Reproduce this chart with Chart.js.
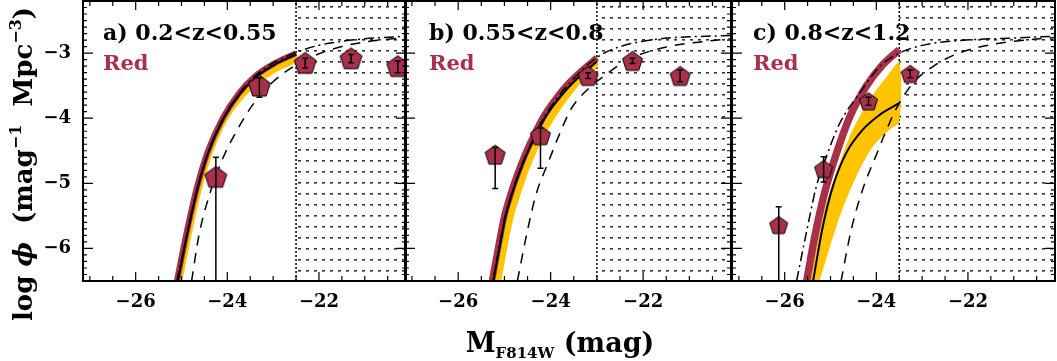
<!DOCTYPE html>
<html>
<head>
<meta charset="utf-8">
<script src="https://cdn.jsdelivr.net/npm/chart.js@4.4.1/dist/chart.umd.min.js"></script>
<style>
  html, body { margin: 0; padding: 0; background: #fff; }
  #wrap { position: relative; width: 1057px; height: 361px; }
  #wrap canvas { position: absolute; left: 0; top: 0; }
</style>
</head>
<body>
<div id="wrap">
  <canvas id="panelA" width="1057" height="361"></canvas>
  <canvas id="panelB" width="1057" height="361"></canvas>
  <canvas id="panelC" width="1057" height="361"></canvas>
</div>
<script>
// axes
const M_MIN = -27.15, M_MAX = -20.1;
const PHI_MIN = -6.5, PHI_MAX = -2.2;
const xTicks = [-26, -24, -22];
const yTicks = [-6, -5, -4, -3];

const panelTitles = ['a) 0.2<z<0.55', 'b) 0.55<z<0.8', 'c) 0.8<z<1.2'];
const sampleName = 'Red';

// completeness limits (hatched to the right)
const limits = [-22.5, -23.0, -23.5];

// ---- panel a ----
const aRed = [[-25.1, -6.5], [-24.96, -6.0], [-24.81, -5.5], [-24.64, -5.0], [-24.42, -4.5], [-24.1, -4.0], [-23.75, -3.62], [-23.4, -3.36], [-23.0, -3.17], [-22.5, -3.0]];
const aFit = [[-25.08, -6.5], [-24.94, -6.0], [-24.79, -5.5], [-24.62, -5.0], [-24.4, -4.5], [-24.08, -4.0], [-23.73, -3.63], [-23.38, -3.37], [-22.98, -3.18], [-22.5, -3.02]];
const aBandLo = [[-24.98, -6.5], [-24.84, -6.0], [-24.69, -5.5], [-24.52, -5.0], [-24.3, -4.5], [-23.97, -4.0], [-23.6, -3.66], [-23.22, -3.42], [-22.85, -3.26], [-22.5, -3.14]];
const aDash = [[-24.78, -6.5], [-24.62, -5.8], [-24.4, -5.2], [-24.1, -4.62], [-23.76, -4.15], [-23.4, -3.75], [-23.0, -3.44], [-22.5, -3.18], [-22.0, -3.01], [-21.5, -2.9], [-21.0, -2.83], [-20.1, -2.76]];
const aDashDot = [[-25.1, -6.5], [-24.95, -6.0], [-24.8, -5.5], [-24.63, -5.0], [-24.41, -4.5], [-24.09, -4.0], [-23.74, -3.62], [-23.39, -3.35], [-23.0, -3.15], [-22.5, -2.99], [-22.0, -2.88], [-21.5, -2.82], [-21.0, -2.78], [-20.1, -2.74]];
const aM = [-24.25, -23.3, -22.3, -21.3, -20.28];
const aPhi = [-4.9, -3.5, -3.15, -3.08, -3.2];
const aHi = [-4.6, -3.38, -3.08, -3.02, -3.12];
const aLo = [-7.0, -3.68, -3.23, -3.15, -3.3];

// ---- panel b ----
const bRed = [[-25.27, -6.5], [-25.14, -6.0], [-25.01, -5.52], [-24.86, -5.15], [-24.72, -4.86], [-24.55, -4.55], [-24.35, -4.24], [-24.15, -3.97], [-23.92, -3.73], [-23.7, -3.53], [-23.48, -3.37], [-23.25, -3.22], [-23.0, -3.07]];
const bFit = [[-25.24, -6.5], [-25.11, -6.0], [-24.98, -5.52], [-24.83, -5.15], [-24.69, -4.86], [-24.52, -4.56], [-24.32, -4.26], [-24.12, -3.99], [-23.89, -3.76], [-23.67, -3.57], [-23.45, -3.41], [-23.22, -3.27], [-23.0, -3.13]];
const bBandLo = [[-25.07, -6.5], [-24.94, -6.0], [-24.8, -5.52], [-24.64, -5.15], [-24.5, -4.86], [-24.33, -4.56], [-24.12, -4.26], [-23.9, -3.99], [-23.66, -3.74], [-23.44, -3.54], [-23.22, -3.36], [-23.0, -3.22]];
const bDash = [[-24.72, -6.5], [-24.5, -5.72], [-24.32, -5.18], [-24.06, -4.69], [-23.77, -4.18], [-23.56, -3.86], [-23.19, -3.55], [-22.9, -3.38], [-22.32, -3.1], [-21.52, -2.91], [-20.65, -2.82], [-20.1, -2.78]];
const bDashDot = [[-25.25, -6.5], [-25.12, -6.0], [-24.99, -5.52], [-24.84, -5.15], [-24.7, -4.86], [-24.53, -4.55], [-24.33, -4.24], [-24.13, -3.97], [-23.9, -3.73], [-23.68, -3.53], [-23.46, -3.36], [-23.23, -3.2], [-23.0, -3.07], [-22.76, -2.97], [-22.4, -2.88], [-22.1, -2.83], [-21.5, -2.77], [-21.0, -2.75], [-20.1, -2.73]];
const bM = [-25.2, -24.22, -23.19, -22.23, -21.2];
const bPhi = [-4.56, -4.26, -3.35, -3.12, -3.35];
const bHi = [-4.45, -4.15, -3.3, -3.08, -3.26];
const bLo = [-5.08, -4.77, -3.39, -3.16, -3.44];

// ---- panel c ----
const cRed = [[-25.52, -6.5], [-25.33, -5.77], [-25.13, -5.15], [-24.87, -4.54], [-24.58, -3.98], [-24.22, -3.51], [-23.86, -3.18], [-23.5, -2.95]];
const cFit = [[-25.38, -6.5], [-25.17, -5.67], [-24.95, -5.05], [-24.66, -4.54], [-24.3, -4.18], [-23.93, -3.95], [-23.5, -3.77]];
const cBandHi = [[-25.44, -6.5], [-25.17, -5.51], [-24.88, -4.85], [-24.55, -4.23], [-24.15, -3.72], [-23.79, -3.38], [-23.5, -3.15]];
const cBandLo = [[-25.24, -6.5], [-24.8, -5.51], [-24.44, -4.9], [-24.08, -4.44], [-23.72, -4.18], [-23.5, -4.05]];
const cDash = [[-24.77, -6.5], [-24.55, -5.72], [-24.3, -5.1], [-23.97, -4.51], [-23.79, -4.2], [-23.57, -3.86], [-23.2, -3.46], [-22.75, -3.2], [-22.2, -3.0], [-21.4, -2.86], [-20.6, -2.79], [-20.1, -2.76]];
const cDashDot = [[-25.74, -6.5], [-25.53, -5.77], [-25.31, -5.05], [-25.09, -4.59], [-24.8, -4.08], [-24.37, -3.62], [-23.93, -3.21], [-23.5, -3.0], [-22.92, -2.87], [-22.05, -2.8], [-21.04, -2.77], [-20.1, -2.74]];
const cM = [-26.13, -25.15, -24.17, -23.26];
const cPhi = [-5.64, -4.78, -3.74, -3.32];
const cHi = [-5.36, -4.59, -3.68, -3.26];
const cLo = [-7.0, -4.98, -3.8, -3.38];

const RED = '#a8304b';
const GOLD = '#ffc400';
const SERIF = '"DejaVu Serif", serif';

function xy(pairs) {
    return pairs.map(([x, y]) => ({ x, y }));
}

function pentagon(r) {
    const s = Math.ceil(2 * r + 4);
    const c = document.createElement('canvas');
    c.width = s;
    c.height = s;
    const g = c.getContext('2d');
    const cy = s / 2 + 0.095 * r;
    g.beginPath();
    for (let i = 0; i < 5; i++) {
        const t = -Math.PI / 2 + i * 2 * Math.PI / 5;
        const px = s / 2 + r * Math.cos(t);
        const py = cy + r * Math.sin(t);
        if (i) g.lineTo(px, py); else g.moveTo(px, py);
    }
    g.closePath();
    g.fillStyle = RED;
    g.fill();
    g.lineWidth = 1;
    g.strokeStyle = '#000';
    g.stroke();
    return c;
}

function hatch() {
    const c = document.createElement('canvas');
    c.width = 8;
    c.height = 11;
    const g = c.getContext('2d');
    g.fillStyle = '#333';
    g.fillRect(2, 6, 3, 1.6);
    return g.createPattern(c, 'repeat');
}

function curve(pairs, color, width, dash, order) {
    return {
        data: xy(pairs),
        borderColor: color,
        borderWidth: width,
        borderDash: dash,
        borderCapStyle: 'butt',
        pointRadius: 0,
        fill: false,
        cubicInterpolationMode: 'monotone',
        order: order
    };
}

// no extra label padding, so all three frames line up
function noPad(s) {
    s.paddingTop = 0;
    s.paddingBottom = 0;
    s.paddingLeft = 0;
    s.paddingRight = 0;
}

// inward ticks on all four sides + frame
const frameTicks = {
    id: 'frameTicks',
    afterDraw(chart) {
        const { ctx, chartArea: a, scales: { x, y } } = chart;
        ctx.save();
        ctx.strokeStyle = '#000';
        ctx.lineWidth = 1.2;
        ctx.beginPath();
        for (let k = Math.ceil(x.min * 2); k <= Math.floor(x.max * 2); k++) {
            const px = x.getPixelForValue(k / 2);
            const len = (k % 4 === 0) ? 9 : 5;
            ctx.moveTo(px, a.bottom); ctx.lineTo(px, a.bottom - len);
            ctx.moveTo(px, a.top); ctx.lineTo(px, a.top + len);
        }
        for (let k = Math.ceil(y.min * 10); k <= Math.floor(y.max * 10); k++) {
            const py = y.getPixelForValue(k / 10);
            const len = (k % 10 === 0) ? 10 : 4;
            ctx.moveTo(a.left, py); ctx.lineTo(a.left + len, py);
            ctx.moveTo(a.right, py); ctx.lineTo(a.right - len, py);
        }
        ctx.stroke();
        ctx.lineWidth = 2;
        ctx.strokeRect(a.left, a.top, a.width, a.height);
        ctx.restore();
    }
};

const errorBars = {
    id: 'errorBars',
    afterDatasetsDraw(chart, args, opts) {
        const { ctx, chartArea: a, scales: { x, y } } = chart;
        ctx.save();
        ctx.beginPath();
        ctx.rect(a.left, a.top, a.width, a.height);
        ctx.clip();
        ctx.strokeStyle = '#000';
        ctx.lineWidth = 1.5;
        opts.m.forEach((m, i) => {
            const px = x.getPixelForValue(m);
            const top = y.getPixelForValue(opts.hi[i]);
            const bot = y.getPixelForValue(opts.lo[i]);
            ctx.beginPath();
            ctx.moveTo(px, top); ctx.lineTo(px, bot);
            ctx.moveTo(px - 3, top); ctx.lineTo(px + 3, top);
            ctx.moveTo(px - 3, bot); ctx.lineTo(px + 3, bot);
            ctx.stroke();
        });
        ctx.restore();
    }
};

const panelText = {
    id: 'panelText',
    afterDraw(chart, args, opts) {
        const { ctx, chartArea: a } = chart;
        ctx.save();
        ctx.textBaseline = 'alphabetic';
        ctx.font = 'bold 22px ' + SERIF;
        ctx.fillStyle = '#000';
        ctx.fillText(opts.title, a.left + opts.dx, a.top + 39);
        ctx.font = 'bold 21px ' + SERIF;
        ctx.fillStyle = RED;
        ctx.fillText(opts.name, a.left + opts.dx, a.top + 69);
        ctx.restore();
    }
};

// text with sub/superscripts: parts = [text, size, shift, italic]
function richText(ctx, parts, cx, cy) {
    let w = 0;
    parts.forEach(p => {
        ctx.font = (p[3] ? 'italic ' : '') + 'bold ' + p[1] + 'px ' + SERIF;
        w += ctx.measureText(p[0]).width;
    });
    let x0 = cx - w / 2;
    parts.forEach(p => {
        ctx.font = (p[3] ? 'italic ' : '') + 'bold ' + p[1] + 'px ' + SERIF;
        ctx.fillText(p[0], x0, cy + p[2]);
        x0 += ctx.measureText(p[0]).width;
    });
}

const axisTitles = {
    id: 'axisTitles',
    afterDraw(chart, args, opts) {
        const ctx = chart.ctx;
        ctx.save();
        ctx.fillStyle = '#000';
        ctx.textBaseline = 'alphabetic';
        if (opts.y) {
            ctx.translate(opts.y.x, opts.y.y);
            ctx.rotate(-Math.PI / 2);
            richText(ctx, opts.y.parts, 0, 0);
            ctx.setTransform(1, 0, 0, 1, 0, 0);
        }
        if (opts.x) {
            richText(ctx, opts.x.parts, opts.x.x, opts.x.y);
        }
        ctx.restore();
    }
};

function makePanel(id, p) {
    const datasets = [
        {
            data: xy([[p.limit, PHI_MAX], [M_MAX, PHI_MAX]]),
            borderColor: 'rgba(0,0,0,0)',
            borderWidth: 0,
            backgroundColor: hatch(),
            fill: 'start',
            pointRadius: 0,
            order: 20
        },
        {
            data: xy([[p.limit, PHI_MIN], [p.limit, PHI_MAX]]),
            borderColor: '#000',
            borderWidth: 1.5,
            borderDash: [2, 2],
            pointRadius: 0,
            fill: false,
            order: 19
        },
        {
            data: xy(p.bandHi.concat(p.bandLo.slice().reverse())),
            borderColor: 'rgba(0,0,0,0)',
            borderWidth: 0,
            backgroundColor: GOLD,
            fill: 'shape',
            tension: 0.3,
            pointRadius: 0,
            order: 18
        },
        curve(p.red, RED, p.redWidth, [], 17),
        curve(p.fit, '#000', 2, [], 16),
        curve(p.dash, '#000', 1.5, [10, 8], 15),
        curve(p.dashDot, '#000', 1.5, [10, 4, 2, 4], 14),
        {
            data: p.m.map((m, i) => ({ x: m, y: p.phi[i] })),
            showLine: false,
            pointStyle: pentagon(p.r),
            pointRadius: p.r,
            order: 1
        }
    ];

    return new Chart(document.getElementById(id), {
        type: 'line',
        data: { datasets },
        options: {
            responsive: false,
            animation: false,
            events: [],
            layout: { autoPadding: false, padding: { left: p.padLeft, right: p.padRight, top: 1, bottom: 0 } },
            scales: {
                x: {
                    type: 'linear',
                    min: M_MIN,
                    max: M_MAX,
                    afterFit: s => { s.height = 80; noPad(s); },
                    afterBuildTicks: s => { s.ticks = xTicks.map(v => ({ value: v })); },
                    grid: { display: false, drawTicks: false },
                    border: { display: false },
                    ticks: {
                        padding: 11,
                        color: '#000',
                        maxRotation: 0,
                        autoSkip: false,
                        font: { family: SERIF, size: 18, weight: 'bold' },
                        callback: v => '\u2212' + Math.abs(v)
                    }
                },
                y: {
                    type: 'linear',
                    min: PHI_MIN,
                    max: PHI_MAX,
                    afterFit: s => { s.width = p.yWidth; noPad(s); },
                    afterBuildTicks: s => { s.ticks = yTicks.map(v => ({ value: v })); },
                    grid: { display: false, drawTicks: false },
                    border: { display: false },
                    ticks: {
                        display: p.yWidth > 0,
                        padding: 12,
                        color: '#000',
                        font: { family: SERIF, size: 18, weight: 'bold' },
                        callback: v => '\u2212' + Math.abs(v)
                    }
                }
            },
            plugins: {
                legend: { display: false },
                tooltip: { enabled: false },
                errorBars: { m: p.m, hi: p.hi, lo: p.lo },
                panelText: { title: p.title, name: sampleName, dx: p.dx },
                axisTitles: p.titles || {}
            }
        },
        plugins: [errorBars, panelText, axisTitles, frameTicks]
    });
}

makePanel('panelA', {
    padLeft: 0, padRight: 1057 - 406, yWidth: 83, dx: 20,
    title: panelTitles[0], limit: limits[0],
    red: aRed, fit: aFit, bandHi: aRed, bandLo: aBandLo, dash: aDash, dashDot: aDashDot,
    m: aM, phi: aPhi, hi: aHi, lo: aLo, r: 11.5, redWidth: 6,
    titles: {
        y: {
            x: 32, y: 164,
            parts: [['log ', 26, 0], ['\u03d5', 26, 0, true], ['  (mag', 26, 0], ['\u22121', 16, -11], ['  Mpc', 26, 0], ['\u22123', 16, -11], [')', 26, 0]]
        }
    }
});

makePanel('panelB', {
    padLeft: 405, padRight: 1057 - 731, yWidth: 0, dx: 24,
    title: panelTitles[1], limit: limits[1],
    red: bRed, fit: bFit, bandHi: bRed, bandLo: bBandLo, dash: bDash, dashDot: bDashDot,
    m: bM, phi: bPhi, hi: bHi, lo: bLo, r: 10.5, redWidth: 6.5,
    titles: {
        x: {
            x: 560, y: 352,
            parts: [['M', 27, 0], ['F814W', 15, 6], [' (mag)', 27, 0]]
        }
    }
});

makePanel('panelC', {
    padLeft: 732, padRight: 2, yWidth: 0, dx: 21,
    title: panelTitles[2], limit: limits[2],
    red: cRed, fit: cFit, bandHi: cBandHi, bandLo: cBandLo, dash: cDash, dashDot: cDashDot,
    m: cM, phi: cPhi, hi: cHi, lo: cLo, r: 9.5, redWidth: 7.5
});
</script>
</body>
</html>
